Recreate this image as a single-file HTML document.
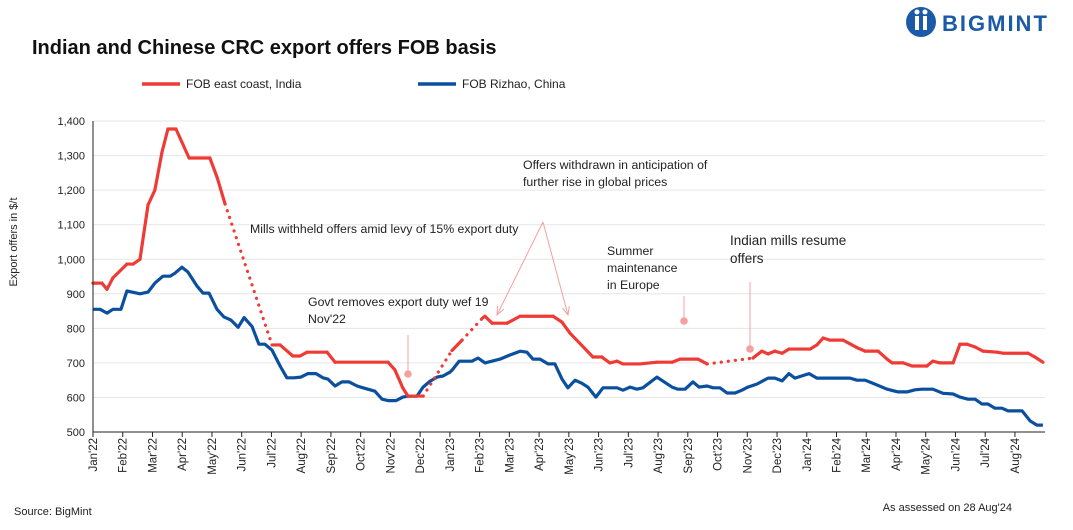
<!DOCTYPE html>
<html><head><meta charset="utf-8"><style>
body{margin:0;background:#fff;font-family:"Liberation Sans",sans-serif;}
svg text{font-family:"Liberation Sans",sans-serif;}
</style></head><body>
<svg id="c" width="1073" height="525" xmlns="http://www.w3.org/2000/svg">
<text x="32" y="54" font-size="20" font-weight="bold" fill="#111">Indian and Chinese CRC export offers FOB basis</text>
<g>
<circle cx="921" cy="22" r="15" fill="#1a5aa6"/><rect x="915" y="16" width="4" height="14" fill="#fff"/><rect x="923" y="16" width="4" height="14" fill="#fff"/><circle cx="917" cy="12" r="2.5" fill="#fff"/><circle cx="925" cy="12" r="2.5" fill="#fff"/>
<text x="942" y="31" font-size="22" font-weight="bold" fill="#1a5aa6" letter-spacing="2">BIGMINT</text></g>
<g>
<line x1="142" y1="84" x2="180" y2="84" stroke="#ef3b36" stroke-width="3.5"/>
<text x="186" y="88" font-size="12" fill="#222">FOB east coast, India</text>
<line x1="418" y1="84" x2="456" y2="84" stroke="#0b4f9f" stroke-width="3.5"/>
<text x="462" y="88" font-size="12" fill="#222">FOB Rizhao, China</text></g>
<text transform="translate(17,242) rotate(-90)" text-anchor="middle" font-size="11" fill="#222">Export offers in $/t</text>
<g id="grid"></g><g id="ann"></g><g id="series"></g><g id="axes"></g>
<text x="14" y="515" font-size="11" fill="#222">Source: BigMint</text>
<text x="1012" y="511" text-anchor="end" font-size="11" fill="#222">As assessed on 28 Aug'24</text>
</svg>
<script>
const months=["Jan'22","Feb'22","Mar'22","Apr'22","May'22","Jun'22","Jul'22","Aug'22","Sep'22","Oct'22","Nov'22","Dec'22","Jan'23","Feb'23","Mar'23","Apr'23","May'23","Jun'23","Jul'23","Aug'23","Sep'23","Oct'23","Nov'23","Dec'23","Jan'24","Feb'24","Mar'24","Apr'24","May'24","Jun'24","Jul'24","Aug'24"];
const yTicks=[500,600,700,800,900,1000,1100,1200,1300,1400];
const redX=[0,0.30,0.47,0.67,1.14,1.35,1.58,1.85,2.08,2.32,2.52,2.79,3.23,3.93,4.17,4.44,6.02,6.29,6.72,6.96,7.20,7.87,8.14,9.92,10.15,10.42,10.59,11.10,12.07,12.41,13.10,13.18,13.42,13.92,14.36,15.47,15.77,16.04,16.81,17.11,17.38,17.62,17.82,18.39,18.96,19.47,19.74,20.34,20.65,22.19,22.49,22.70,22.93,23.17,23.40,24.11,24.34,24.55,24.78,25.22,25.52,25.72,25.96,26.40,26.70,26.87,27.24,27.54,28.04,28.24,28.48,28.92,29.15,29.39,29.66,29.93,30.40,30.60,31.44,31.67,31.94];
const redY=[931,931,913,946,986,986,1000,1157,1200,1310,1377,1377,1293,1293,1238,1160,752,752,720,720,731,731,702,702,680,627,604,604,736,766,830,835,815,815,835,835,818,786,717,717,700,705,697,697,702,702,711,711,697,714,734,726,734,728,740,740,752,772,766,766,752,743,734,734,711,700,700,691,691,705,700,700,754,754,746,734,731,728,728,717,702];
const redDottedAfter=[15,27,29,48];
const blueX=[0,.24,.47,.67,.94,1.14,1.58,1.85,2.08,2.35,2.59,2.76,2.99,3.19,3.50,3.70,3.90,4.17,4.40,4.64,4.88,5.08,5.35,5.58,5.78,6.02,6.29,6.52,6.76,6.99,7.23,7.50,7.73,7.90,8.14,8.37,8.61,8.88,9.08,9.48,9.72,9.92,10.19,10.42,10.63,10.89,11.10,11.33,11.57,11.77,12.00,12.07,12.31,12.74,12.95,13.18,13.69,14.02,14.36,14.59,14.79,15.03,15.30,15.53,15.77,15.97,16.21,16.44,16.64,16.91,17.15,17.62,17.82,18.06,18.29,18.49,18.96,19.47,19.67,19.91,20.17,20.38,20.65,20.85,21.08,21.32,21.59,21.82,22.02,22.33,22.70,22.93,23.17,23.40,23.60,24.08,24.34,25.45,25.69,25.96,26.19,26.70,27.07,27.37,27.64,27.87,28.24,28.58,28.92,29.15,29.42,29.66,29.89,30.09,30.33,30.56,30.77,31.24,31.51,31.74,31.94];
const blueY=[855,855,844,855,855,908,900,905,931,951,951,960,977,963,922,902,902,855,833,824,803,831,805,754,754,737,691,657,657,659,669,669,657,653,633,645,645,633,628,618,595,591,591,601,604,604,630,647,659,662,673,679,705,705,714,700,711,723,734,731,711,711,697,697,653,628,650,641,630,601,628,628,621,630,624,628,659,630,624,624,645,630,633,628,628,613,613,621,630,639,656,656,648,669,656,669,656,656,650,650,642,624,616,616,622,624,624,612,610,601,595,595,581,581,569,569,561,561,532,520,520];
const NS="http://www.w3.org/2000/svg";
const X0=93,MW=29.74,Y0=432,YS=0.3455;
const xs=m=>X0+m*MW, ys=v=>Y0-(v-500)*YS;
function mk(tag,attrs,parent){const e=document.createElementNS(NS,tag);for(const k in attrs)e.setAttribute(k,attrs[k]);document.getElementById(parent).appendChild(e);return e;}
yTicks.forEach(v=>{
 if(v>500){const g=mk('line',{x1:X0,x2:1045,y1:ys(v),y2:ys(v),stroke:'#e6e6e6','stroke-width':1},'grid');
 
 }
 const t=mk('text',{x:X0-8,y:ys(v)+4,'text-anchor':'end','font-size':11,fill:'#222'},'axes');t.textContent=v.toLocaleString('en-US');
 
 
});
let a=mk('line',{x1:X0,x2:X0,y1:ys(1400),y2:Y0,stroke:'#222','stroke-width':1},'axes');


a=mk('line',{x1:X0,x2:1045,y1:Y0,y2:Y0,stroke:'#222','stroke-width':1},'axes');


months.forEach((m,i)=>{
 const x=xs(i);
 const tk=mk('line',{x1:x,x2:x,y1:Y0,y2:Y0+5,stroke:'#222'},'axes');
 
 
 const t=mk('text',{transform:`translate(${x+4},${Y0+6}) rotate(-90)`,'text-anchor':'end','font-size':11.5,fill:'#222'},'axes');t.textContent=m;
 
 
});
let d=blueX.map((m,i)=>(i?'L':'M')+xs(m).toFixed(1)+' '+ys(blueY[i]).toFixed(1)).join(' ');
let p=mk('path',{d:d,fill:'none',stroke:'#0b4f9f','stroke-width':3.2,'stroke-linejoin':'round'},'series');


for(let i=0;i<redX.length-1;i++){
 const dotted=redDottedAfter.includes(i);
 const l=mk('line',{x1:xs(redX[i]),y1:ys(redY[i]),x2:xs(redX[i+1]),y2:ys(redY[i+1]),stroke:'#ef3b36','stroke-width':3.2,'stroke-linecap':'round','stroke-dasharray':dotted?'0.1 7':'none'},'series');
 
 
}
function txt(x,y,s,fs,name){const t=mk('text',{x:x,y:y,'font-size':fs,fill:'#222'},'ann');t.textContent=s;
 
 }
txt(250,233,"Mills withheld offers amid levy of 15% export duty",12.3,'annotation-export-duty');
txt(308,306,"Govt removes export duty wef 19",12.3,'annotation-duty-removed');
txt(308,323,"Nov'22",12.3,'annotation-duty-removed');
txt(523,169,"Offers withdrawn in anticipation of",12.3,'annotation-withdrawn');
txt(523,186,"further rise in global prices",12.3,'annotation-withdrawn');
txt(607,255,"Summer",12.3,'annotation-summer');
txt(607,272,"maintenance",12.3,'annotation-summer');
txt(607,289,"in Europe",12.3,'annotation-summer');
txt(730,245,"Indian mills resume",13.5,'annotation-resume');
txt(730,263,"offers",13.5,'annotation-resume');
[[543,222,497,315],[543,222,568,315]].forEach(c=>{
 const l=mk('line',{x1:c[0],y1:c[1],x2:c[2],y2:c[3],stroke:'#f4a0a0','stroke-width':1},'ann');
 
 
 const ang=Math.atan2(c[3]-c[1],c[2]-c[0]);const h=9;
 const pth=`M${c[2]-h*Math.cos(ang-0.4)} ${c[3]-h*Math.sin(ang-0.4)} L${c[2]} ${c[3]} L${c[2]-h*Math.cos(ang+0.4)} ${c[3]-h*Math.sin(ang+0.4)}`;
 const hd=mk('path',{d:pth,fill:'none',stroke:'#f4a0a0','stroke-width':1},'ann');
 
 
});
[[408,335,374],[684,296,321],[750,282,349]].forEach(c=>{
 const l=mk('line',{x1:c[0],y1:c[1],x2:c[0],y2:c[2],stroke:'#f4a0a0','stroke-width':1},'ann');
 
 
 const ci=mk('circle',{cx:c[0],cy:c[2],r:3.8,fill:'#f4a0a0'},'ann');
 
 
});
</script>
</body></html>
